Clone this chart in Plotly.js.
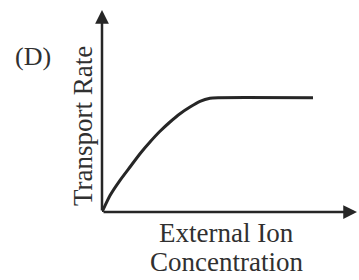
<!DOCTYPE html>
<html>
<head>
<meta charset="utf-8">
<script src="https://cdn.plot.ly/plotly-3.0.1.min.js"></script>
<style>html,body{margin:0;padding:0;background:#fff;}#chart{width:359px;height:280px;}</style>
</head>
<body>
<div id="chart"></div>
<script>
// Data (arbitrary units)
const concentration = [0, 8, 18, 28, 38, 48, 58, 68, 78, 88, 98, 108, 116, 211];
const transportRate = [0, 16.5, 31.7, 45, 58.3, 70, 80.7, 90, 98.3, 105, 110.7, 113.8, 114.3, 114.3];
const xTitleLines = ["External Ion", "Concentration"];
const yTitle = "Transport Rate";
const panelLabel = "(D)";

const ink = "#262626";
const textInk = "#303030";
const serif = "Liberation Serif, Times New Roman, serif";

const trace = {
  x: concentration, y: transportRate, type: "scatter", mode: "lines",
  line: {color: ink, width: 3, shape: "spline", smoothing: 0.5},
  hoverinfo: "skip"
};

const layout = {
  width: 359, height: 280,
  margin: {l: 102, r: 2, t: 10, b: 68},
  paper_bgcolor: "#fff", plot_bgcolor: "#fff",
  showlegend: false,
  xaxis: {range: [0, 255], showgrid: false, zeroline: false, showline: false,
          showticklabels: false, ticks: ""},
  yaxis: {range: [0, 202], showgrid: false, zeroline: false, showline: false,
          showticklabels: false, ticks: ""},
  annotations: [
    {x: 255, y: 0, ax: 0, ay: 0, xref: "x", yref: "y", axref: "x", ayref: "y",
     text: "", showarrow: true, arrowhead: 2, arrowsize: 1.1, arrowwidth: 2.5, arrowcolor: ink},
    {x: 0, y: 202, ax: 0, ay: 0, xref: "x", yref: "y", axref: "x", ayref: "y",
     text: "", showarrow: true, arrowhead: 2, arrowsize: 1.1, arrowwidth: 2.5, arrowcolor: ink},
    {x: -0.349, y: 0.772, xref: "paper", yref: "paper", xanchor: "left", yanchor: "middle",
     text: panelLabel, showarrow: false, font: {family: serif, size: 26, color: textInk}},
    {x: 0.49, y: -0.104, xref: "paper", yref: "paper", xanchor: "center", yanchor: "middle",
     text: xTitleLines[0], showarrow: false, font: {family: serif, size: 27, color: textInk}},
    {x: 0.49, y: -0.248, xref: "paper", yref: "paper", xanchor: "center", yanchor: "middle",
     text: xTitleLines[1], showarrow: false, font: {family: serif, size: 27, color: textInk}},
    {x: -0.0745, y: 0.426, xref: "paper", yref: "paper", xanchor: "center", yanchor: "middle",
     text: yTitle, textangle: -90, showarrow: false, font: {family: serif, size: 27, color: textInk}}
  ]
};

Plotly.newPlot("chart", [trace], layout, {staticPlot: true, displayModeBar: false});
</script>
</body>
</html>
